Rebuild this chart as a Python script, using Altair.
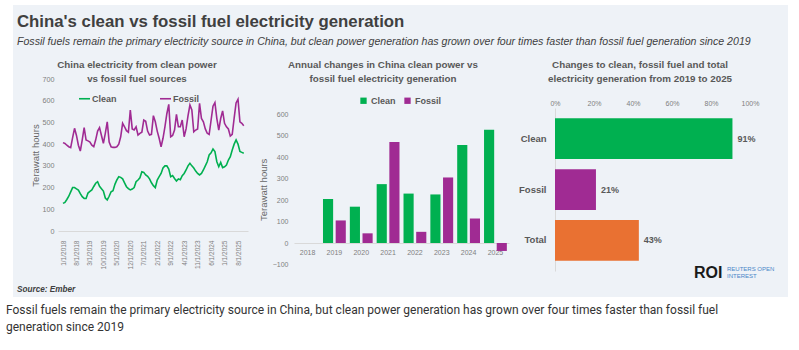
import json
import altair as alt
import pandas as pd

# ---------------- data ----------------
MONTHS = [f"{y}-{m:02d}" for y in range(2018, 2026) for m in range(1, 13)][:95]

CLEAN_MONTHLY = [
    127, 132, 145, 160, 180, 200, 200, 194, 188, 172, 158, 150,
    150, 175, 182, 189, 205, 220, 227, 206, 195, 184, 152, 143,
    160, 181, 186, 215, 235, 250, 247, 240, 222, 204, 195, 189,
    193, 200, 227, 235, 245, 273, 270, 258, 252, 240, 222, 209,
    200, 235, 250, 265, 290, 300, 300, 285, 250, 255, 242, 230,
    240, 236, 255, 265, 281, 300, 312, 300, 290, 276, 265, 258,
    265, 281, 300, 319, 350, 360, 378, 366, 319, 296, 316, 292,
    296, 304, 327, 342, 373, 400, 419, 400, 366, 362, 358,
]
FOSSIL_MONTHLY = [
    407, 403, 395, 388, 384, 430, 473, 440, 395, 368, 420, 476,
    419, 415, 410, 395, 388, 420, 460, 476, 440, 404, 450, 503,
    410, 388, 385, 385, 388, 400, 434, 496, 480, 462, 455, 557,
    470, 465, 480, 442, 450, 455, 511, 505, 460, 442, 445, 531,
    503, 460, 427, 388, 427, 480, 540, 583, 434, 440, 465, 537,
    480, 480, 511, 434, 470, 530, 580, 557, 457, 465, 470, 588,
    518, 503, 470, 450, 445, 510, 575, 591, 518, 465, 518, 553,
    496, 480, 470, 437, 445, 520, 590, 607, 503, 496, 485,
]
TICK_MONTHS = [0, 7, 14, 21, 28, 35, 42, 49, 56, 63, 70, 77, 84, 91]
TICK_LABELS = ["1/1/2018", "8/1/2018", "3/1/2019", "10/1/2019", "5/1/2020",
               "12/1/2020", "7/1/2021", "2/1/2022", "9/1/2022", "4/1/2023",
               "11/1/2023", "6/1/2024", "1/1/2025", "8/1/2025"]

YEARS = ["2018", "2019", "2020", "2021", "2022", "2023", "2024", "2025"]
CLEAN_CHANGE = [0, 205, 169, 274, 230, 226, 456, 527]
FOSSIL_CHANGE = [0, 105, 45, 470, 52, 305, 114, -37]

CATEGORIES = ["Clean", "Fossil", "Total"]
PCT_CHANGE = [91, 21, 43]
PCT_TICKS = [0, 20, 40, 60, 80, 100]

SERIES = ["Clean", "Fossil"]

# ---------------- style ----------------
FONT = "Liberation Sans"
CAPTION_FONT = "Roboto"
GREEN = "#00B050"
PURPLE = "#A02B93"
ORANGE = "#E97132"
BG = "#EEF2F7"
DARK = "#404040"
MID = "#595959"
LIGHT = "#808080"
AXISLINE = "#D9D9D9"

TITLE = "China's clean vs fossil fuel electricity generation"
SUBTITLE = ("Fossil fuels remain the primary electricity source in China, but clean power generation "
            "has grown over four times faster than fossil fuel generation since 2019")
CAPTION = ["Fossil fuels remain the primary electricity source in China, but clean power generation has grown over four times faster than fossil fuel",
           "generation since 2019"]

one = pd.DataFrame({"k": [0]})

# ---------------- panel 1: monthly lines ----------------
line_df = pd.DataFrame({
    "month": list(range(len(MONTHS))) * 2,
    "label": MONTHS * 2,
    "twh": CLEAN_MONTHLY + FOSSIL_MONTHLY,
    "source": ["Clean"] * len(MONTHS) + ["Fossil"] * len(MONTHS),
})

W1, H1 = 190, 123
label_expr = json.dumps(TICK_LABELS) + "[round(datum.value / 7)]"

bg = alt.Chart(one).mark_rect(color=BG).encode(
    x=alt.value(-45), x2=alt.value(730), y=alt.value(-103), y2=alt.value(189))

lines = alt.Chart(line_df).mark_line(strokeWidth=1.6).encode(
    x=alt.X("month:Q",
            scale=alt.Scale(domain=[-2.6, 96.2], nice=False, zero=False),
            axis=alt.Axis(values=TICK_MONTHS, labelExpr=label_expr, labelAngle=-90,
                          labelFontSize=6.5, labelColor=LIGHT, labelPadding=9, zindex=1,
                          labelOverlap=False, ticks=False, grid=False, domainColor=AXISLINE,
                          title=None)),
    y=alt.Y("twh:Q",
            scale=alt.Scale(domain=[0, 700], range=[H1, H1 - 152], nice=False),
            axis=alt.Axis(values=list(range(0, 800, 100)), grid=False, domain=False, ticks=False,
                          labelFontSize=7.2, labelColor=LIGHT, labelPadding=4, zindex=1,
                          title="Terawatt hours", titleFontSize=9.5, titleColor="#666666",
                          titleFontWeight="normal", titlePadding=2)),
    color=alt.Color("source:N",
                    scale=alt.Scale(domain=SERIES, range=[GREEN, PURPLE]),
                    legend=alt.Legend(orient="none", legendX=20, legendY=-16, direction="horizontal",
                                      title=None, symbolType="stroke", symbolStrokeWidth=1.6,
                                      symbolSize=120, labelFontSize=9, labelFontWeight="bold",
                                      labelColor=MID, labelOffset=1, columnPadding=39)),
)

title_txt = alt.Chart(one).mark_text(align="left", baseline="alphabetic", fontSize=16.8,
                                     fontWeight="bold", color=DARK).encode(
    x=alt.value(-41), y=alt.value(-81), text=alt.value(TITLE))
subtitle_txt = alt.Chart(one).mark_text(align="left", baseline="alphabetic", fontSize=10.6,
                                        fontStyle="italic", color=DARK).encode(
    x=alt.value(-41), y=alt.value(-63.5), text=alt.value(SUBTITLE))
p1_title = alt.Chart(one).mark_text(align="center", baseline="alphabetic", fontSize=9.8,
                                    fontWeight="bold", color=MID, lineHeight=14.5).encode(
    x=alt.value(79), y=alt.value(-40.5),
    text=alt.value(["China electricity from clean power", "vs fossil fuel sources"]))
source_txt = alt.Chart(one).mark_text(align="left", baseline="alphabetic", fontSize=8.2,
                                      fontWeight="bold", fontStyle="italic", color=DARK).encode(
    x=alt.value(-41), y=alt.value(184), text=alt.value("Source: Ember"))
caption_txt = alt.Chart(one).mark_text(align="left", baseline="alphabetic", fontSize=12,
                                       font=CAPTION_FONT, color="#333333", lineHeight=17).encode(
    x=alt.value(-52), y=alt.value(205.5), text=alt.value(CAPTION))

panel1 = alt.layer(bg, lines, title_txt, subtitle_txt, p1_title, source_txt, caption_txt).properties(
    width=W1, height=H1)

# ---------------- panel 2: annual change bars ----------------
bar_df = pd.DataFrame({
    "year": YEARS * 2,
    "source": ["Clean"] * len(YEARS) + ["Fossil"] * len(YEARS),
    "change": CLEAN_CHANGE + FOSSIL_CHANGE,
})
W2, H2 = 215, 135
Y2_BOTTOM = H2 + 150.4 / 7  # -100 sits below the zero line

bars = alt.Chart(bar_df).mark_bar().encode(
    x=alt.X("year:O", sort=YEARS,
            scale=alt.Scale(paddingInner=0.15, paddingOuter=0.08),
            axis=alt.Axis(labelAngle=0, labelFontSize=7, labelColor=LIGHT, labelPadding=5,
                          ticks=False, domainColor=AXISLINE, title=None)),
    xOffset=alt.XOffset("source:N", sort=SERIES, scale=alt.Scale(paddingInner=0.2)),
    y=alt.Y("change:Q",
            scale=alt.Scale(domain=[-100, 600], range=[Y2_BOTTOM, Y2_BOTTOM - 150.4], nice=False),
            axis=alt.Axis(values=list(range(-100, 700, 100)), grid=False, domain=False, ticks=False,
                          labelFontSize=7, labelColor=LIGHT, labelPadding=6,
                          title="Terawatt hours", titleFontSize=9.5, titleColor="#666666",
                          titleFontWeight="normal", titlePadding=4)),
    color=alt.Color("source:N",
                    scale=alt.Scale(domain=SERIES, range=[GREEN, PURPLE]),
                    legend=alt.Legend(orient="none", legendX=65, legendY=-12, direction="horizontal",
                                      title=None, symbolType="square", symbolSize=40,
                                      symbolStrokeWidth=0, labelFontSize=9, labelFontWeight="bold",
                                      labelColor=MID, labelOffset=3, columnPadding=7)),
)
p2_title = alt.Chart(one).mark_text(align="center", baseline="alphabetic", fontSize=9.8,
                                    fontWeight="bold", color=MID, lineHeight=14.5).encode(
    x=alt.value(89), y=alt.value(-40.5),
    text=alt.value(["Annual changes in China clean power vs", "fossil fuel electricity generation"]))
panel2 = alt.layer(bars, p2_title).properties(width=W2, height=H2)

# ---------------- panel 3: 2019-2025 % change ----------------
pct_df = pd.DataFrame({
    "category": CATEGORIES,
    "pct": PCT_CHANGE,
    "label": [f"{v}%" for v in PCT_CHANGE],
})
W3, H3 = 195, 163

x3 = alt.X("pct:Q", scale=alt.Scale(domain=[0, 100], nice=False),
           axis=alt.Axis(orient="top", values=PCT_TICKS, tickCount=6, labelExpr="datum.value + '%'",
                         labelFontSize=7, labelColor=LIGHT, labelPadding=2, grid=False,
                         labelOverlap=False, labelBound=False, labelFlush=False,
                         domain=False, ticks=False, title=None))
y3 = alt.Y("category:N", sort=CATEGORIES,
           scale=alt.Scale(paddingInner=0.2, paddingOuter=0.2),
           axis=alt.Axis(title=None, ticks=False, domainColor=AXISLINE, labelFontSize=9.5,
                         labelFontWeight="bold", labelColor=MID, labelPadding=9))

hbars = alt.Chart(pct_df).mark_bar().encode(
    x=x3, y=y3,
    color=alt.Color("category:N", scale=alt.Scale(domain=CATEGORIES, range=[GREEN, PURPLE, ORANGE]),
                    legend=None),
)
hlabels = alt.Chart(pct_df).mark_text(align="left", baseline="middle", dx=5, fontSize=9,
                                      fontWeight="bold", color=MID).encode(
    x=x3, y=y3, text="label:N")
p3_title = alt.Chart(one).mark_text(align="center", baseline="alphabetic", fontSize=9.8,
                                    fontWeight="bold", color=MID, lineHeight=14.5).encode(
    x=alt.value(85), y=alt.value(-40.5),
    text=alt.value(["Changes to clean, fossil fuel and total",
                    "electricity generation from 2019 to 2025"]))
roi = alt.Chart(one).mark_text(align="left", baseline="alphabetic", fontSize=16,
                               fontWeight="bold", color="#1A1A1A").encode(
    x=alt.value(139), y=alt.value(170), text=alt.value("ROI"))
roi_sub = alt.Chart(one).mark_text(align="left", baseline="alphabetic", fontSize=6,
                                   color="#4A86C8", lineHeight=7).encode(
    x=alt.value(172), y=alt.value(163), text=alt.value(["REUTERS OPEN", "INTEREST"]))
panel3 = alt.layer(hbars, hlabels, p3_title, roi, roi_sub).properties(width=W3, height=H3)

chart = alt.hconcat(panel1, panel2, panel3, spacing=46, bounds="flush").resolve_scale(
    color="independent").resolve_legend(color="independent").properties(
    padding={"left": 6, "top": 5, "right": 11, "bottom": 10},
    background="white",
).configure(font=FONT).configure_view(strokeWidth=0)

chart.save("out.html", embed_options={"renderer": "svg", "actions": False})
